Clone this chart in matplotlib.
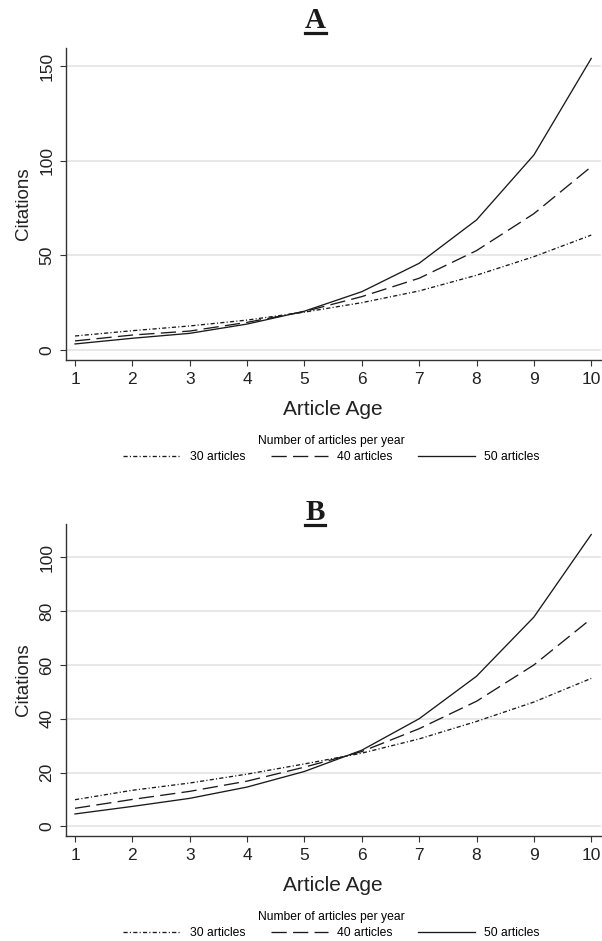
import matplotlib
matplotlib.use("Agg")
import matplotlib.pyplot as plt
from matplotlib.lines import Line2D

plt.rcParams['font.family'] = ['Liberation Sans', 'DejaVu Sans']
plt.rcParams['lines.scale_dashes'] = False

# article age (years since publication)
age = [1, 2, 3, 4, 5, 6, 7, 8, 9, 10]

# panel A - citations by journal size
a_30 = [7.4, 10.2, 12.7, 15.8, 20.0, 25.0, 31.2, 39.5, 49.3, 60.7]
a_40 = [4.8, 7.9, 10.0, 14.6, 20.3, 28.2, 37.9, 52.5, 72.0, 96.8]
a_50 = [3.2, 6.2, 8.8, 13.7, 20.5, 30.8, 45.8, 68.7, 103.0, 154.0]

# panel B
b_30 = [9.9, 13.4, 16.1, 19.4, 23.2, 27.2, 32.5, 39.0, 46.2, 55.0]
b_40 = [6.7, 10.0, 13.0, 16.8, 22.0, 27.8, 36.3, 46.5, 60.0, 77.2]
b_50 = [4.6, 7.4, 10.4, 14.6, 20.4, 28.3, 40.0, 55.8, 77.8, 108.5]

series_labels = ['30 articles', '40 articles', '50 articles']
a_ticks = [0, 50, 100, 150]
b_ticks = [0, 20, 40, 60, 80, 100]

W, H = 602, 941
fig = plt.figure(figsize=(W / 100, H / 100), dpi=100)

line_col = '#1a1a1a'
styles = [(0, (3.0, 1.6, 0.8, 1.6)), (0, (11, 4.5)), '-']


def make_panel(rect, series, ticks, ylim, letter, title_y, legend_y):
    ax = fig.add_axes(rect)
    lines = []
    for vals, ls, lab in zip(series, styles, series_labels):
        ln, = ax.plot(age, vals, color=line_col, lw=0.95, linestyle=ls, label=lab)
        lines.append(ln)
    ax.set_xlim(0.834, 10.17)
    ax.set_ylim(*ylim)
    ax.set_xticks(age)
    ax.set_yticks(ticks)
    ax.grid(axis='y', color='#e6e6e6', lw=1.3)
    ax.set_axisbelow(True)
    for s in ['top', 'right']:
        ax.spines[s].set_visible(False)
    for s in ['left', 'bottom']:
        ax.spines[s].set_color('#333333')
        ax.spines[s].set_linewidth(1.0)
    ax.tick_params(axis='both', direction='out', length=4, width=0.8,
                   color='#333333', labelsize=12.5, labelcolor='#222222')
    ax.tick_params(axis='x', pad=5)
    ax.tick_params(axis='y', pad=4, labelrotation=90)
    for lab in ax.get_yticklabels():
        lab.set_va('center')
    ax.set_ylabel('Citations', fontsize=13.5, color='#222222')
    ax.yaxis.set_label_coords(-0.078, 0.5)
    ax.yaxis.label.set_va('center')
    ax.set_xlabel('Article Age', fontsize=15, color='#222222')
    ax.xaxis.set_label_coords(0.5, -0.160)
    ax.xaxis.label.set_va('center')

    # underlined panel letter
    t = fig.text(315 / W, 1 - title_y / H, letter, ha='center', va='baseline',
                 family='Liberation Serif', weight='bold', fontsize=21, color='#1a1a1a')
    fig.canvas.draw()
    bb = t.get_window_extent(fig.canvas.get_renderer())
    uy = (1 - title_y / H) - 4.5 / H
    fig.add_artist(Line2D([bb.x0 / W, bb.x1 / W], [uy, uy], color='#1a1a1a', lw=2.3,
                          transform=fig.transFigure))

    fig.legend(lines, series_labels, loc='center', bbox_to_anchor=(331.5 / W, 1 - legend_y / H),
               ncol=3, frameon=False, title='Number of articles per year',
               fontsize=8.7, title_fontsize=8.7, handlelength=4.75, handletextpad=0.75,
               columnspacing=2.1, labelspacing=0.3, borderpad=0)
    return ax


ax_a = make_panel([65.5 / W, 1 - 360 / H, 535.5 / W, 312 / H], [a_30, a_40, a_50],
                  a_ticks, (-5.28, 159.5), 'A', 28, 449)
ax_b = make_panel([65.5 / W, 1 - 836 / H, 535.5 / W, 312 / H], [b_30, b_40, b_50],
                  b_ticks, (-3.6, 112.4), 'B', 520, 925)

fig.savefig('out.png', dpi=100)
